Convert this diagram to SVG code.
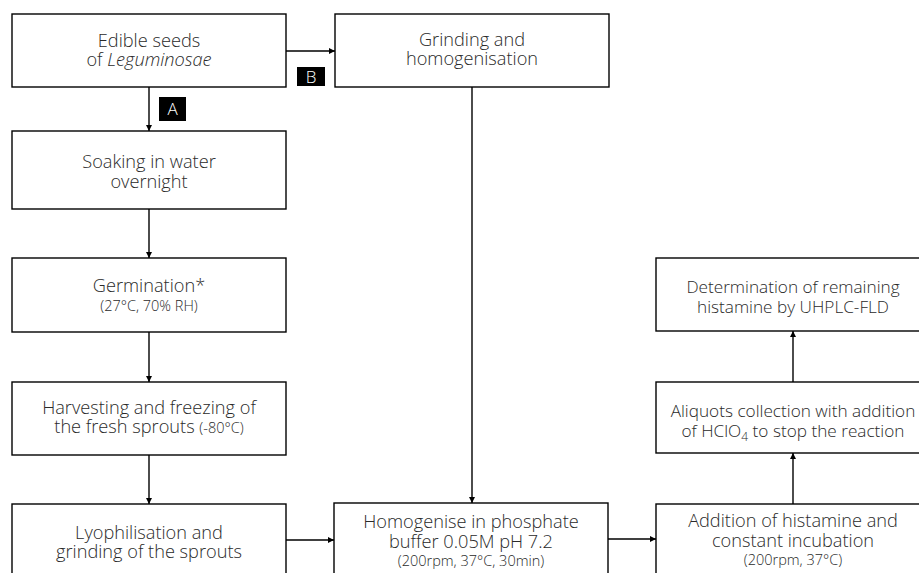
<svg xmlns="http://www.w3.org/2000/svg" width="919" height="573" viewBox="0 0 919 573">
<defs>
<marker id="ah" viewBox="0 0 10 10" refX="10" refY="5" markerWidth="6" markerHeight="6" markerUnits="userSpaceOnUse" orient="auto">
<path d="M0,0 L10,5 L0,10 z" fill="#000"/>
</marker>
<style>
.box{fill:#fff;stroke:#000;stroke-width:1.4}
.t{font-family:"Open Sans","Liberation Sans",sans-serif;font-weight:300;font-size:18.2px;fill:#2a2a2a;text-anchor:middle}
.r{font-size:17.2px}
.s{font-size:14.5px}
.c{stroke:#000;stroke-width:1.4;fill:none;marker-end:url(#ah)}
.lab{fill:#000}
.lt{font-family:"Open Sans","Liberation Sans",sans-serif;font-weight:300;font-size:17px;fill:#fff;text-anchor:middle}
</style>
</defs>
<rect width="919" height="573" fill="#fff"/>
<g id="connectors">
<path class="c" d="M286,51 H335"/>
<path class="c" d="M149,87 V131"/>
<path class="c" d="M149,209 V258"/>
<path class="c" d="M149,332 V382"/>
<path class="c" d="M149,455 V504"/>
<path class="c" d="M472,87 V503"/>
<path class="c" d="M286,540 H334"/>
<path class="c" d="M608,539 H656"/>
<path class="c" d="M793,504 V453"/>
<path class="c" d="M793,382 V331"/>
<rect class="lab" x="297" y="67" width="28" height="19"/>
<text class="lt" x="311" y="83">B</text>
<rect class="lab" x="159" y="97" width="27" height="24"/>
<text class="lt" x="172.5" y="115">A</text>
</g>
<g id="seeds">
<rect class="box" x="12" y="14" width="274" height="73"/>
<text class="t" x="149" y="47">Edible seeds</text>
<text class="t" x="149" y="66">of <tspan font-style="italic">Leguminosae</tspan></text>
</g>
<g id="grinding">
<rect class="box" x="335" y="14" width="274" height="73"/>
<text class="t" x="472" y="46">Grinding and</text>
<text class="t" x="472" y="65">homogenisation</text>
</g>
<g id="soaking">
<rect class="box" x="12" y="131" width="274" height="78"/>
<text class="t" x="149" y="168">Soaking in water</text>
<text class="t" x="149" y="188">overnight</text>
</g>
<g id="germination">
<rect class="box" x="12" y="258" width="274" height="74"/>
<text class="t" x="149" y="292">Germination*</text>
<text class="t s" x="149" y="311">(27°C, 70% RH)</text>
</g>
<g id="harvesting">
<rect class="box" x="12" y="382" width="274" height="73"/>
<text class="t" x="149" y="414">Harvesting and freezing of</text>
<text class="t" x="149" y="433">the fresh sprouts <tspan class="s">(-80°C)</tspan></text>
</g>
<g id="lyophilisation">
<rect class="box" x="12" y="504" width="274" height="74"/>
<text class="t" x="149" y="539">Lyophilisation and</text>
<text class="t" x="149" y="558">grinding of the sprouts</text>
</g>
<g id="homogenise">
<rect class="box" x="334" y="503" width="274" height="75"/>
<text class="t" x="471" y="528">Homogenise in phosphate</text>
<text class="t" x="471" y="548">buffer 0.05M pH 7.2</text>
<text class="t s" x="471" y="566">(200rpm, 37°C, 30min)</text>
</g>
<g id="addition">
<rect class="box" x="656" y="504" width="274" height="74"/>
<text class="t" x="793" y="527">Addition of histamine and</text>
<text class="t" x="793" y="547">constant incubation</text>
<text class="t s" x="793" y="565">(200rpm, 37°C)</text>
</g>
<g id="aliquots">
<rect class="box" x="656" y="382" width="274" height="71"/>
<text class="t r" x="793" y="417">Aliquots collection with addition</text>
<text class="t r" x="793" y="437">of HClO<tspan font-size="12" dy="4">4</tspan><tspan dy="-4"> to stop the reaction</tspan></text>
</g>
<g id="determination">
<rect class="box" x="656" y="258" width="274" height="73"/>
<text class="t r" x="793" y="293">Determination of remaining</text>
<text class="t r" x="793" y="313">histamine by UHPLC-FLD</text>
</g>
</svg>
